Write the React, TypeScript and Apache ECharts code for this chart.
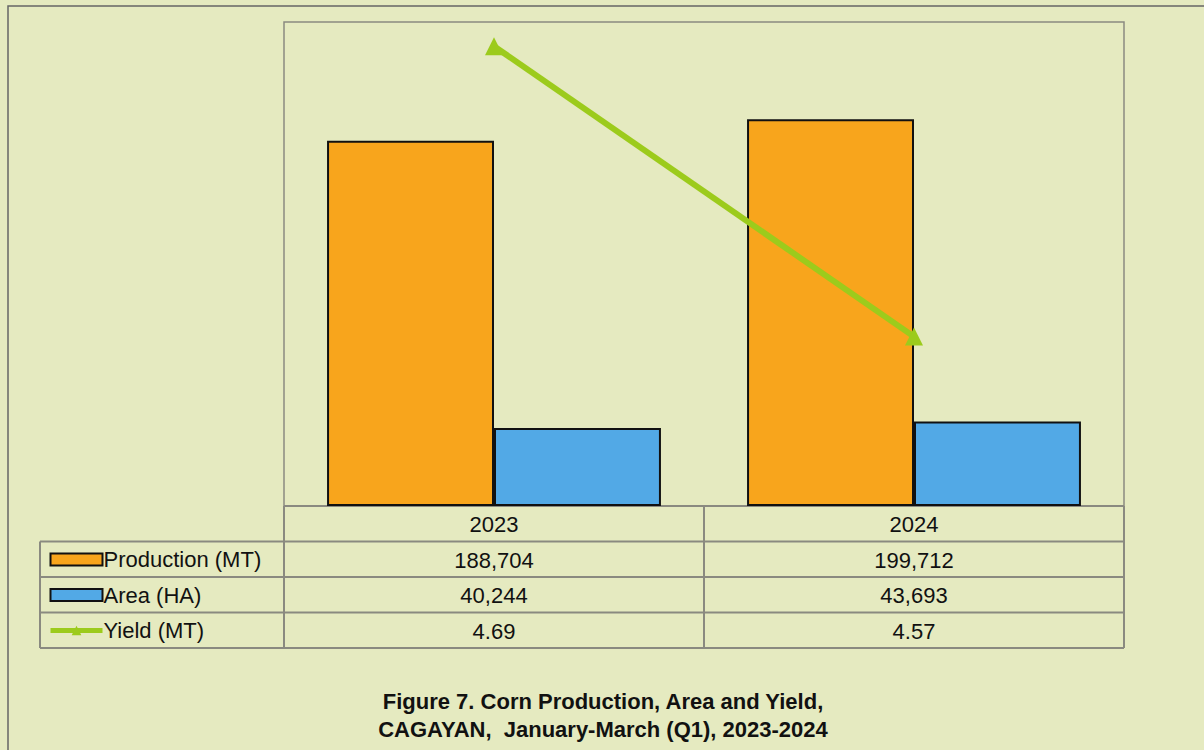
import React, { useEffect, useRef } from "react";
import * as echarts from "echarts";

const categories = ["2023", "2024"];
const production = [188704, 199712];
const area = [40244, 43693];
const yieldMT = [4.69, 4.57];
const seriesNames = ["Production (MT)", "Area (HA)", "Yield (MT)"];
const titleLines = [
  "Figure 7. Corn Production, Area and Yield,",
  "CAGAYAN,  January-March (Q1), 2023-2024",
];

const BG = "#e5eac0";
const GREEN = "#9ccb1c";
const FONT = "Liberation Sans, Arial, sans-serif";
const GRID_LEFT = 284;
const GRID_TOP = 22;
const GRID_W = 840;
const GRID_H = 484;
const TABLE_LEFT = 40;
const ROW_H = 35.5;

export default function App() {
  const ref = useRef<HTMLDivElement>(null);
  useEffect(() => {
    if (!ref.current) return;
    const chart = echarts.init(ref.current, null, { renderer: "svg" });
    const fmt = (v: number) => v.toLocaleString("en-US");
    const rows = [
      production.map(fmt),
      area.map(fmt),
      yieldMT.map((v) => v.toFixed(2)),
    ];
    const colW = GRID_W / categories.length;
    const tableTop = GRID_TOP + GRID_H;
    const tableRight = GRID_LEFT + GRID_W;
    const graphics: any[] = [];
    graphics.push({
      type: "rect",
      shape: { x: 8, y: 6, width: 1220, height: 800 },
      style: { fill: "none", stroke: "#666", lineWidth: 1.5 },
      silent: true,
    });
    const lineStyle = { stroke: "#8a8a80", lineWidth: 2 };
    for (let r = 0; r <= 4; r++) {
      const y = tableTop + r * ROW_H;
      graphics.push({
        type: "line",
        shape: { x1: r === 0 ? GRID_LEFT : TABLE_LEFT, y1: y, x2: tableRight, y2: y },
        style: lineStyle,
      });
    }
    graphics.push({
      type: "line",
      shape: { x1: TABLE_LEFT, y1: tableTop + ROW_H, x2: TABLE_LEFT, y2: tableTop + 4 * ROW_H },
      style: lineStyle,
    });
    for (let c = 0; c <= categories.length; c++) {
      const x = GRID_LEFT + c * colW;
      graphics.push({
        type: "line",
        shape: { x1: x, y1: tableTop, x2: x, y2: tableTop + 4 * ROW_H },
        style: lineStyle,
      });
    }
    const textStyle = {
      fontFamily: FONT,
      fontSize: 22,
      fill: "#111",
      align: "center",
      verticalAlign: "middle",
    };
    categories.forEach((cat, i) => {
      graphics.push({
        type: "text",
        x: GRID_LEFT + colW * (i + 0.5),
        y: tableTop + ROW_H / 2 + 1,
        style: { ...textStyle, text: cat },
      });
      rows.forEach((row, r) => {
        graphics.push({
          type: "text",
          x: GRID_LEFT + colW * (i + 0.5),
          y: tableTop + ROW_H * (r + 1.5) + 1,
          style: { ...textStyle, text: row[i] },
        });
      });
    });
    titleLines.forEach((t, i) => {
      graphics.push({
        type: "text",
        x: 603,
        y: 701 + i * 28.5,
        style: {
          text: t,
          fontFamily: FONT,
          fontSize: 22,
          fontWeight: "bold",
          fill: "#111",
          align: "center",
          verticalAlign: "middle",
        },
      });
    });

    chart.setOption({
      animation: false,
      backgroundColor: BG,
      grid: {
        left: GRID_LEFT,
        top: GRID_TOP,
        width: GRID_W,
        height: GRID_H,
        show: true,
        borderColor: "#8a8a80",
        borderWidth: 1.5,
        backgroundColor: "transparent",
      },
      legend: {
        orient: "vertical",
        left: 48,
        top: tableTop + ROW_H + 7,
        padding: 0,
        itemWidth: 52,
        itemHeight: 12,
        itemGap: 13.5,
        data: [
          { name: seriesNames[0], icon: "rect" },
          { name: seriesNames[1], icon: "rect" },
          {
            name: seriesNames[2],
            lineStyle: { width: 5, color: GREEN },
            itemStyle: { color: GREEN },
          },
        ],
        textStyle: {
          fontFamily: FONT,
          fontSize: 22,
          color: "#111",
          lineHeight: 22,
          padding: [0, 0, 0, -4],
        },
      },
      xAxis: {
        type: "category",
        data: categories,
        axisLine: { show: false },
        axisTick: { show: false },
        axisLabel: { show: false },
      },
      yAxis: [
        { type: "value", min: 0, max: 250000, show: false, splitLine: { show: false } },
        { type: "value", min: 4.5, max: 4.7, show: false, splitLine: { show: false } },
      ],
      series: [
        {
          name: seriesNames[0],
          type: "bar",
          data: production,
          barGap: "0%",
          barCategoryGap: "20.5%",
          itemStyle: { color: "#f8a51c", borderColor: "#111", borderWidth: 2 },
        },
        {
          name: seriesNames[1],
          type: "bar",
          data: area,
          itemStyle: { color: "#52a9e6", borderColor: "#111", borderWidth: 2 },
        },
        {
          name: seriesNames[2],
          type: "line",
          yAxisIndex: 1,
          data: yieldMT,
          symbol: "triangle",
          symbolSize: 18,
          lineStyle: { color: GREEN, width: 6 },
          itemStyle: { color: GREEN },
        },
      ],
      graphic: graphics,
    });
    return () => chart.dispose();
  }, []);
  return (
    <div
      ref={ref}
      style={{ position: "absolute", left: 0, top: 0, width: 1204, height: 750 }}
    />
  );
}
